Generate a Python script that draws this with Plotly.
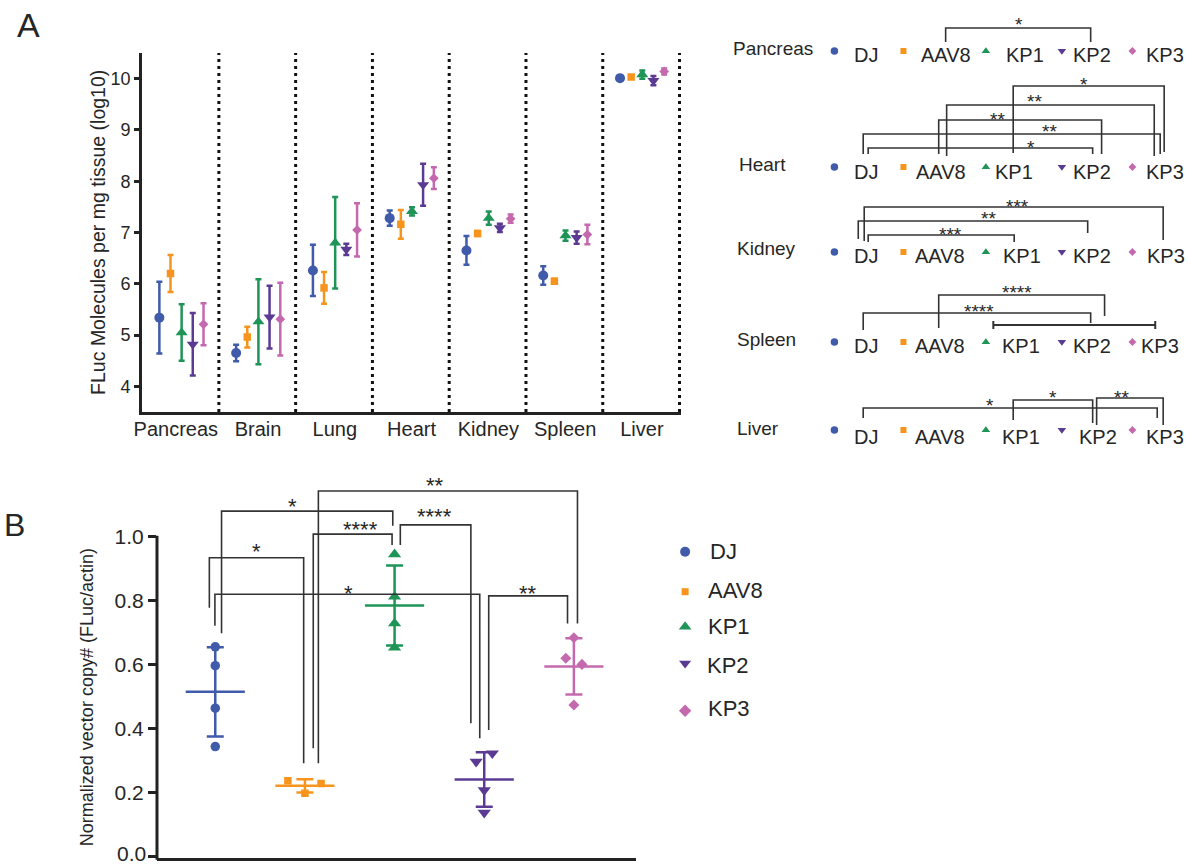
import numpy as np
import plotly.graph_objects as go

W, H = 1190, 867
FONT = "Liberation Sans, Arial, Helvetica, sans-serif"
TXT = "#262626"
AX = "#222222"
LINE = "#333333"

# ---------------- data ----------------
groups = ["DJ", "AAV8", "KP1", "KP2", "KP3"]
colors = ["#3F5BA9", "#F7941D", "#1E9457", "#5A3A92", "#C569AE"]
symbols = ["circle", "square", "triangle-up", "triangle-down", "diamond"]

tissues = ["Pancreas", "Brain", "Lung", "Heart", "Kidney", "Spleen", "Liver"]
a_mean_dj = [5.34, 4.65, 6.26, 7.28, 6.65, 6.16, 10.01]
a_mean_aav8 = [6.20, 4.96, 5.92, 7.16, 6.98, 6.05, 10.03]
a_mean_kp1 = [5.05, 5.26, 6.80, 7.41, 7.28, 6.94, 10.08]
a_mean_kp2 = [4.82, 5.35, 6.67, 7.93, 7.09, 6.90, 9.96]
a_mean_kp3 = [5.21, 5.31, 7.05, 8.06, 7.27, 6.96, 10.14]
a_sd_dj = [0.70, 0.16, 0.50, 0.15, 0.28, 0.18, 0.02]
a_sd_aav8 = [0.36, 0.20, 0.31, 0.28, 0.05, 0.05, 0.03]
a_sd_kp1 = [0.55, 0.83, 0.89, 0.08, 0.13, 0.10, 0.08]
a_sd_kp2 = [0.61, 0.61, 0.11, 0.41, 0.08, 0.12, 0.09]
a_sd_kp3 = [0.41, 0.71, 0.52, 0.21, 0.08, 0.19, 0.06]

b_dj = [0.656, 0.597, 0.464, 0.344]
b_aav8 = [0.2375, 0.198, 0.229]
b_kp1 = [0.945, 0.8125, 0.729, 0.653]
b_kp2 = [0.297, 0.323, 0.208, 0.1375]
b_kp3 = [0.684, 0.620, 0.601, 0.474]

a_ticks = [4, 5, 6, 7, 8, 9, 10]
b_ticks = [0.0, 0.2, 0.4, 0.6, 0.8, 1.0]

a_means = [a_mean_dj, a_mean_aav8, a_mean_kp1, a_mean_kp2, a_mean_kp3]
a_sds = [a_sd_dj, a_sd_aav8, a_sd_kp1, a_sd_kp2, a_sd_kp3]
b_points = [b_dj, b_aav8, b_kp1, b_kp2, b_kp3]

# ---------------- layout constants ----------------
A_X0, A_X1, A_YT, A_YB = 135, 678, 53, 412
A_XR, A_YR = [0, 7.025], [3.5, 10.5]
B_X0, B_X1, B_YT, B_YB = 150, 632, 456.7, 858.3
B_XR, B_YR = [-0.65, 4.69], [-0.005, 1.25]

a_offsets = [-0.275, -0.13, 0.015, 0.16, 0.30]
a_label_pos = [0.44, 1.51, 2.51, 3.51, 4.51, 5.51, 6.51]
a_msize = [10, 7.5, 10.5, 10.5, 7.5]
b_msize = [9.5, 7.5, 11.5, 11.5, 8.5]
b_jitter = [[0, 0, 0, 0], [-0.19, 0, 0.18], [0, 0, 0, 0],
            [-0.09, 0.09, 0, 0], [0, -0.09, 0.09, 0]]


def b_px(x):
    return B_X0 + (x - B_XR[0]) * (B_X1 - B_X0) / (B_XR[1] - B_XR[0])


def b_py(v):
    return B_YB - (v - B_YR[0]) * (B_YB - B_YT) / (B_YR[1] - B_YR[0])


fig = go.Figure()
shapes = []
annotations = []


def text(x, y, s, size, xanchor="left", xref="x3", yref="y3", yshift=0,
         angle=0, color=TXT, yanchor="middle"):
    annotations.append(dict(x=x, y=y, xref=xref, yref=yref, text=s,
                            showarrow=False, xanchor=xanchor, yanchor=yanchor,
                            font=dict(size=size, color=color, family=FONT),
                            yshift=yshift, textangle=angle))


def bracket(xref, yref, x1, x2, yt, yf1, yf2, width=1.6):
    shapes.append(dict(type="path", xref=xref, yref=yref,
                       path=f"M {x1},{yf1} L {x1},{yt} L {x2},{yt} L {x2},{yf2}",
                       line=dict(color=LINE, width=width)))


# ---------------- Panel A ----------------
for gi, g in enumerate(groups):
    fig.add_trace(go.Scatter(
        x=[ti + 0.5 + a_offsets[gi] for ti in range(len(tissues))],
        y=a_means[gi], mode="markers", name=g,
        marker=dict(symbol=symbols[gi], size=a_msize[gi], color=colors[gi]),
        error_y=dict(type="data", array=a_sds[gi], visible=True,
                     color=colors[gi], thickness=2.5, width=3),
        xaxis="x", yaxis="y", showlegend=False))

for k in range(1, len(tissues) + 1):
    shapes.append(dict(type="line", xref="x", yref="y", x0=k, x1=k,
                       y0=A_YR[0], y1=A_YR[1], layer="below",
                       line=dict(color="#111111", width=3, dash="3px,4px")))

text(90, (A_YT + A_YB) / 2, "FLuc Molecules per mg tissue (log10)", 19.5,
     xanchor="center", angle=-90)
text(21, 25, "A", 34, xanchor="center")

# right-hand significance diagram of panel A
row_names = ["Pancreas", "Heart", "Kidney", "Spleen", "Liver"]
row_label_x = [731, 737, 735, 735, 735]
row_label_y = [48, 164, 248, 339, 428]
row_text_y = [55, 172, 256, 346, 437]
row_marker_y = [51, 167, 252, 342, 430]
marker_x = [832, 901.5, 984.5, 1061, 1132]
row_text_x = [[853, 920, 1006, 1073, 1147],
              [853, 915, 995, 1073, 1147],
              [853, 914, 1003, 1073, 1148],
              [853, 914, 1002, 1073, 1142],
              [853, 914, 1002, 1079, 1147]]
diag_msize = [7.5, 6, 7.5, 7.5, 6]

for ri, rn in enumerate(row_names):
    text(row_label_x[ri] - 3, row_label_y[ri], rn, 19)
    for gi, g in enumerate(groups):
        text(row_text_x[ri][gi] - 3, row_text_y[ri], g, 20)

for gi, g in enumerate(groups):
    fig.add_trace(go.Scatter(
        x=[marker_x[gi]] * len(row_names), y=row_marker_y, mode="markers",
        marker=dict(symbol=symbols[gi], size=diag_msize[gi], color=colors[gi]),
        xaxis="x3", yaxis="y3", showlegend=False, hoverinfo="skip"))

# (x1, x2, y_bar, y_foot1, y_foot2, label, label_x, label_y)
a_brackets = [
    (944, 1090, 28, 42, 42, "*", 1018, 20),
    (1012, 1164, 86, 153, 152, "*", 1083, 80),
    (945, 1154, 105, 156, 156, "**", 1033, 97),
    (937, 1101, 120, 154, 154, "**", 996, 115),
    (861, 1160, 134, 154, 154, "**", 1049, 127),
    (866, 1092, 148, 154, 154, "*", 1030, 143),
    (862, 1163, 207, 241, 240, "***", 1016, 202),
    (856, 1087, 221, 239, 233, "**", 987, 214),
    (866, 1013, 235, 242, 242, "***", 949, 230),
    (937, 1104, 295, 328, 316, "****", 1016, 288),
    (861, 1090, 313, 330, 323, "****", 978, 307),
    (861, 1157, 408, 418, 418, "*", 989, 401),
    (1012, 1092, 400, 420, 423, "*", 1052, 393),
    (1096, 1163, 398, 425, 425, "**", 1121, 393),
]
for (x1, x2, yt, f1, f2, lab, lx, ly) in a_brackets:
    bracket("x3", "y3", x1, x2, yt, f1, f2)
    text(lx, ly, lab, 19, xanchor="center", yshift=-4.4)
# capped line KP1-KP3 in spleen
shapes.append(dict(type="path", xref="x3", yref="y3",
                   path="M 992,321 L 992,329 M 992,325 L 1155,325 M 1155,321 L 1155,329",
                   line=dict(color=LINE, width=2)))

# ---------------- Panel B ----------------
for gi, g in enumerate(groups):
    pts = np.array(b_points[gi])
    m = float(pts.mean())
    sd = float(pts.std(ddof=1))
    fig.add_trace(go.Scatter(x=[gi - 0.33, gi + 0.33], y=[m, m], mode="lines",
                             line=dict(color=colors[gi], width=2.5),
                             xaxis="x2", yaxis="y2", showlegend=False,
                             hoverinfo="skip"))
    fig.add_trace(go.Scatter(x=[gi], y=[m], mode="markers",
                             marker=dict(size=1, color=colors[gi], opacity=0),
                             error_y=dict(type="data", array=[sd], visible=True,
                                          color=colors[gi], thickness=2.5, width=8.5),
                             xaxis="x2", yaxis="y2", showlegend=False,
                             hoverinfo="skip"))
    fig.add_trace(go.Scatter(x=[gi + j for j in b_jitter[gi]], y=b_points[gi],
                             mode="markers", name=g,
                             marker=dict(symbol=symbols[gi], size=b_msize[gi],
                                         color=colors[gi]),
                             xaxis="x2", yaxis="y2", showlegend=False))

# (x1, x2, y_bar, y_foot1, y_foot2, label, label_x, label_y)
b_brackets = [
    (0.07, 1.98, 1.080, 0.698, 1.034, "*", 0.864, 1.109),
    (1.15, 4.04, 1.143, 0.292, 0.729, "**", 2.45, 1.175),
    (1.093, 1.972, 1.008, 0.339, 0.974, "****", 1.62, 1.037),
    (2.064, 2.851, 1.037, 0.974, 0.417, "****", 2.45, 1.078),
    (-0.066, 0.986, 0.934, 0.778, 0.292, "*", 0.458, 0.968),
    (-0.004, 2.95, 0.820, 0.722, 0.370, "*", 1.49, 0.839),
    (3.05, 3.929, 0.815, 0.396, 0.729, "**", 3.486, 0.839),
]
for (x1, x2, yt, f1, f2, lab, lx, ly) in b_brackets:
    bracket("x2", "y2", x1, x2, yt, f1, f2)
    text(lx, ly, lab, 22, xanchor="center", xref="x2", yref="y2", yshift=-5)

# y axis line of panel B from 0 to 1.0
shapes.append(dict(type="line", xref="x3", yref="y3", x0=B_X0, x1=B_X0,
                   y0=b_py(b_ticks[0]) + 3, y1=b_py(b_ticks[-1]) - 1,
                   line=dict(color=AX, width=3)))
# the lowest tick label sits at the page edge; keep it inside the page
text(B_X0 - 9, H, f"{b_ticks[0]:.1f}", 21, xanchor="right", yanchor="bottom")

text(79, (b_py(0) + b_py(1.0)) / 2, "Normalized vector copy# (FLuc/actin)", 18,
     xanchor="center", angle=-90)
text(7, 525, "B", 32, xanchor="center")

# legend of panel B
leg_marker_x = 681.7
leg_marker_y = [551.7, 591.7, 626.7, 663.3, 710.7]
leg_text_x = [708, 706, 706, 705, 706]
leg_text_y = [551.3, 590, 626.7, 665.3, 708.3]
leg_msize = [10, 7, 11, 10.5, 9.5]
for gi, g in enumerate(groups):
    fig.add_trace(go.Scatter(x=[leg_marker_x], y=[leg_marker_y[gi]], mode="markers",
                             marker=dict(symbol=symbols[gi], size=leg_msize[gi],
                                         color=colors[gi]),
                             xaxis="x3", yaxis="y3", showlegend=False,
                             hoverinfo="skip"))
    text(leg_text_x[gi] - 3, leg_text_y[gi], g, 22)

# ---------------- axes ----------------
fig.update_layout(
    width=W, height=H, margin=dict(l=0, r=0, t=0, b=0),
    paper_bgcolor="white", plot_bgcolor="rgba(0,0,0,0)",
    showlegend=False, font=dict(family=FONT, color=TXT),
    xaxis=dict(domain=[A_X0 / W, A_X1 / W], range=A_XR, anchor="y",
               showline=True, linecolor=AX, linewidth=3, ticks="",
               tickvals=a_label_pos, ticktext=tissues,
               ticklabelstandoff=-3,
               tickfont=dict(size=20, color=TXT), showgrid=False, zeroline=False),
    yaxis=dict(domain=[(H - A_YB) / H, (H - A_YT) / H], range=A_YR, anchor="x",
               showline=True, linecolor=AX, linewidth=3, ticks="outside",
               ticklen=5, tickwidth=3, tickcolor=AX, tickvals=a_ticks,
               tickfont=dict(size=18, color=TXT), showgrid=False, zeroline=False),
    xaxis2=dict(domain=[B_X0 / W, B_X1 / W], range=B_XR, anchor="y2",
                showline=True, linecolor=AX, linewidth=3, ticks="",
                showticklabels=False, showgrid=False, zeroline=False),
    yaxis2=dict(domain=[(H - B_YB) / H, (H - B_YT) / H], range=B_YR, anchor="x2",
                showline=False, ticks="outside", ticklen=8, tickwidth=3,
                tickcolor=AX, tickvals=b_ticks,
                ticktext=[f"{v:.1f}" for v in b_ticks],
                tickfont=dict(size=21, color=TXT), showgrid=False, zeroline=False),
    xaxis3=dict(domain=[0, 1], range=[0, W], anchor="y3", visible=False,
                fixedrange=True),
    yaxis3=dict(domain=[0, 1], range=[H, 0], anchor="x3", visible=False,
                fixedrange=True),
    shapes=shapes, annotations=annotations,
)

fig.write_html("out.html")
